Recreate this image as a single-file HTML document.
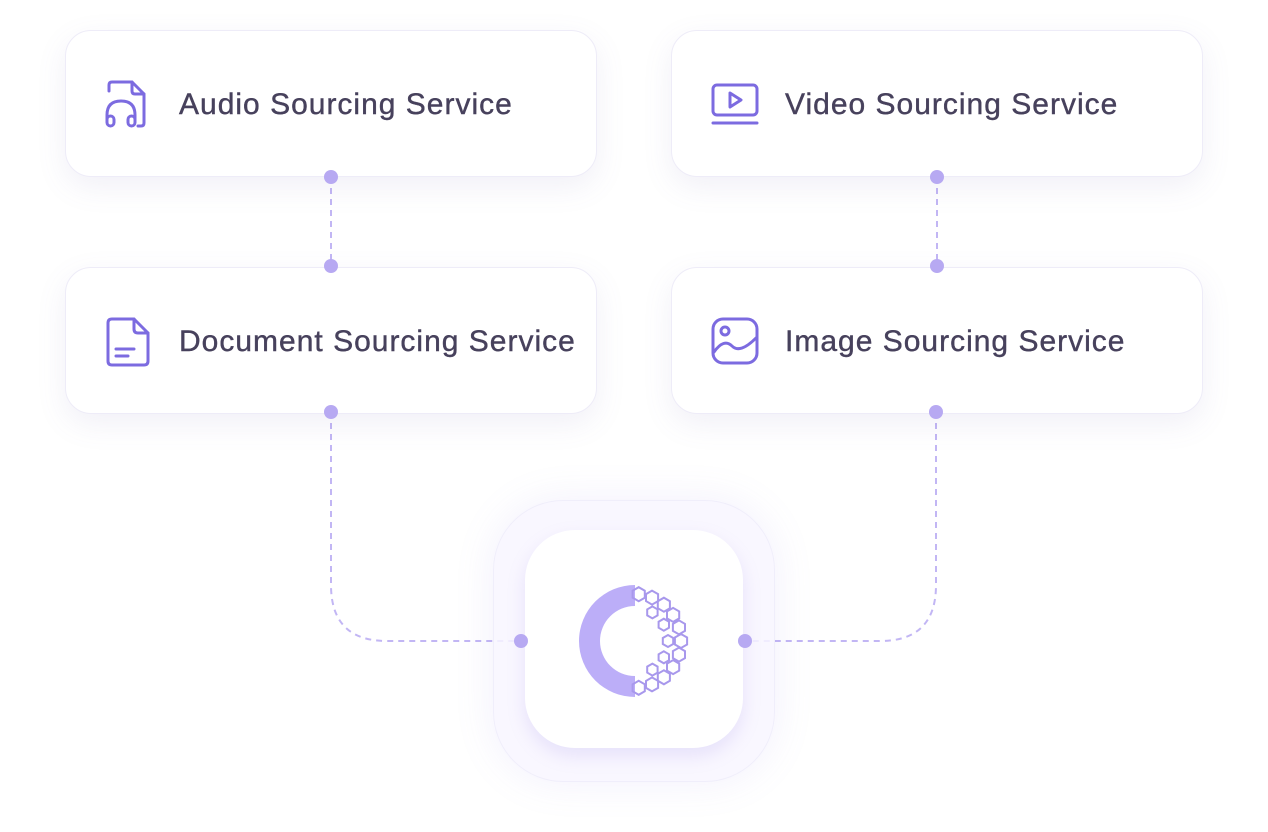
<!DOCTYPE html>
<html><head><meta charset="utf-8"><style>
html,body{margin:0;padding:0;background:#fff;width:1268px;height:832px;overflow:hidden;font-family:"Liberation Sans",sans-serif}
.card{position:absolute;width:530px;height:145px;background:#fff;border:1px solid #eeecf8;border-radius:26px;box-shadow:0 10px 30px rgba(120,110,180,0.10)}
.card span{position:absolute;left:113px;top:57px;font-size:30px;color:#47415c;letter-spacing:1px;-webkit-text-stroke:0.4px #47415c}
.card svg{position:absolute;left:38px;top:48px}
</style></head><body>
<svg width="1268" height="832" style="position:absolute;left:0;top:0">
<g fill="none" stroke="#c2b6f4" stroke-width="2" stroke-dasharray="6,5">
<line x1="331" y1="177" x2="331" y2="266"/>
<line x1="937" y1="177" x2="937" y2="266"/>
<path d="M331 412 V585 Q331 641 387 641 H521"/>
<path d="M936 412 V585 Q936 641 880 641 H745"/>
</g>
</svg>
<div class="card" style="left:65px;top:30px"><svg width="48" height="52" viewBox="0 0 48 52" fill="none" stroke="#7c6be0" stroke-width="3" stroke-linecap="round" stroke-linejoin="round"><path d="M5 12 V6 Q5 3 8 3 H28 L40 15 V44 Q40 47 37 47 H34"/><path d="M28 3 V12 Q28 15 31 15 H40"/><path d="M3 40 V36 Q3 22 17 22 Q31 22 31 36 V40"/><rect x="3" y="37" width="7" height="10" rx="3.5"/><rect x="24" y="37" width="7" height="10" rx="3.5"/></svg><span>Audio Sourcing Service</span></div>
<div class="card" style="left:671px;top:30px"><svg width="50" height="50" viewBox="0 0 50 50" fill="none" stroke="#7c6be0" stroke-width="3" stroke-linecap="round" stroke-linejoin="round"><rect x="3" y="6" width="44" height="30" rx="4"/><path d="M20 14 L31 21 L20 28 Z"/><line x1="3" y1="44" x2="47" y2="44"/></svg><span>Video Sourcing Service</span></div>
<div class="card" style="left:65px;top:267px"><svg width="48" height="52" viewBox="0 0 48 52" fill="none" stroke="#7c6be0" stroke-width="3" stroke-linecap="round" stroke-linejoin="round"><path d="M30 3 H8 Q4 3 4 7 V45 Q4 49 8 49 H40 Q44 49 44 45 V17 Z"/><path d="M30 3 V13 Q30 17 34 17 H44"/><line x1="12" y1="33" x2="30" y2="33"/><line x1="12" y1="40" x2="24" y2="40"/></svg><span>Document Sourcing Service</span></div>
<div class="card" style="left:671px;top:267px"><svg width="50" height="50" viewBox="0 0 50 50" fill="none" stroke="#7c6be0" stroke-width="3" stroke-linecap="round" stroke-linejoin="round"><rect x="3" y="3" width="44" height="44" rx="10"/><circle cx="15" cy="15" r="4"/><path d="M4 36 Q14 22 22 30 T46 22"/></svg><span>Image Sourcing Service</span></div>
<div style="position:absolute;left:493px;top:500px;width:280px;height:280px;border-radius:70px;background:rgba(248,246,255,0.85);border:1px solid #f0eefb;box-shadow:0 0 40px rgba(150,130,230,0.12)"></div>
<div style="position:absolute;left:525px;top:530px;width:218px;height:218px;border-radius:50px;background:#fff;box-shadow:0 8px 18px rgba(150,130,230,0.18)"></div>
<svg width="1268" height="832" style="position:absolute;left:0;top:0">
<g fill="#b7a9f2">
<circle cx="331" cy="177" r="7"/><circle cx="331" cy="266" r="7"/><circle cx="331" cy="412" r="7"/>
<circle cx="937" cy="177" r="7"/><circle cx="937" cy="266" r="7"/><circle cx="936" cy="412" r="7"/>
<circle cx="521" cy="641" r="7"/><circle cx="745" cy="641" r="7"/>
</g>
<path d="M635 585 A56 56 0 0 0 635 697 L635 676 A35 35 0 0 1 635 606 Z" fill="#bcaef8"/>
<g id="hex" fill="none" stroke="#a898ec" stroke-width="2"></g>
</svg>
<script>
var g=document.getElementById('hex'),s='';
function hex(cx,cy,r){var p=[];for(var i=0;i<6;i++){var a=Math.PI/3*i+Math.PI/6;p.push((cx+r*Math.cos(a)).toFixed(1)+','+(cy+r*Math.sin(a)).toFixed(1));}return '<polygon points="'+p.join(' ')+'"/>';}
for(var k=0;k<11;k++){var a=-Math.PI/2+0.1+k*(Math.PI-0.2)/10;var R=47;s+=hex(634+R*Math.cos(a),641+R*Math.sin(a),7);}
for(var k=0;k<5;k++){var a=-1.0+k*0.5;var R=34;s+=hex(634+R*Math.cos(a),641+R*Math.sin(a),6);}
g.innerHTML=s;
</script>
</body></html>
